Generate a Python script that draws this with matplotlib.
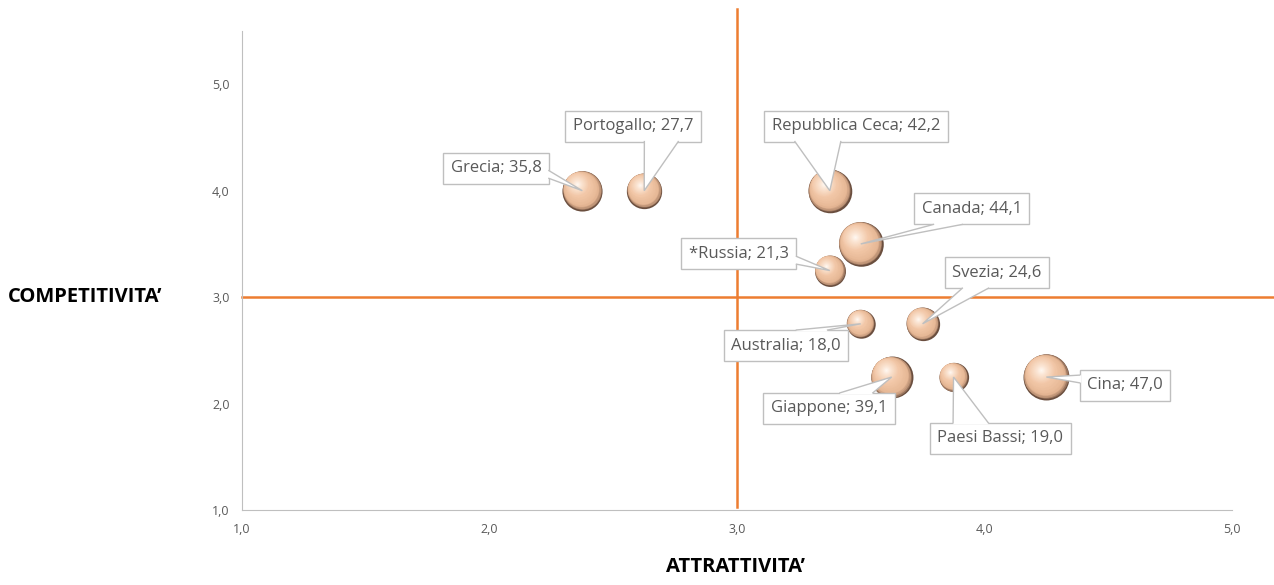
import matplotlib.pyplot as plt
import matplotlib.transforms as mtransforms
import numpy as np
from matplotlib.colors import LinearSegmentedColormap
from matplotlib.patches import Polygon

plt.rcParams['font.family'] = ['Open Sans', 'DejaVu Sans']

countries = ['Grecia', 'Portogallo', 'Repubblica Ceca', 'Canada', '*Russia',
             'Svezia', 'Australia', 'Giappone', 'Paesi Bassi', 'Cina']
attrattivita = [2.375, 2.625, 3.375, 3.5, 3.375, 3.75, 3.5, 3.625, 3.875, 4.25]
competitivita = [4.0, 4.0, 4.0, 3.5, 3.25, 2.75, 2.75, 2.25, 2.25, 2.25]
valori = [35.8, 27.7, 42.2, 44.1, 21.3, 24.6, 18.0, 39.1, 19.0, 47.0]

# posizione delle etichette (coordinate dati)
label_xy = [(2.026, 4.213), (2.580, 4.607), (3.481, 4.607), (3.949, 3.829),
            (3.008, 3.407), (4.051, 3.230), (3.198, 2.546), (3.372, 1.956),
            (4.063, 1.674), (4.568, 2.171)]

ticks = [1, 2, 3, 4, 5]
orange = '#ED7D31'
grey_edge = '#bfbfbf'

sphere = LinearSegmentedColormap.from_list('sphere', [
    (0.0, '#6a4e3e'), (0.05, '#b88e72'), (0.14, '#e6b795'), (0.40, '#f2c7a7'),
    (0.78, '#fbe5d3'), (1.0, '#fffaf5')])

fig = plt.figure(figsize=(12.74, 5.85), dpi=100)
ax = fig.add_axes([0.19, 0.128, 0.777, 0.819])
ax.set_xlim(1, 5)
ax.set_ylim(1, 5.5)

# linee dei quadranti
ax.plot([3, 3], [1.03, 5.71], color=orange, lw=1.8, clip_on=False, zorder=1)
ax.plot([1, 5.17], [3, 3], color=orange, lw=1.8, clip_on=False, zorder=1)

# bolle con effetto sfera
sizes = [23.3 * v for v in valori]
n_layers = 30
hl = np.array([-0.62, 0.78])  # direzione della luce
for x, y, s in zip(attrattivita, competitivita, sizes):
    R = np.sqrt(s) / 2  # raggio in punti
    for k in range(n_layers):
        t = k / n_layers
        r = R * (1 - t)
        m = min(0.92 * t, 0.40) * R
        tr = mtransforms.offset_copy(ax.transData, fig=fig,
                                     x=hl[0] * m, y=hl[1] * m, units='points')
        ax.scatter([x], [y], s=(2 * r) ** 2, color=sphere(t), lw=0,
                   transform=tr, zorder=3 + k * 0.01)

# etichette
texts = []
for name, v, (lx, ly) in zip(countries, valori, label_xy):
    txt = f"{name}; {v:.1f}".replace('.', ',')
    t = ax.text(lx, ly, txt, ha='center', va='center', fontsize=12,
                color='#595959', zorder=5,
                bbox=dict(boxstyle='square,pad=0.45', fc='white', ec=grey_edge, lw=1))
    texts.append(t)

for side in ['top', 'right']:
    ax.spines[side].set_visible(False)
for side in ['left', 'bottom']:
    ax.spines[side].set_color(grey_edge)
ax.set_xticks(ticks)
ax.set_yticks(ticks)
ax.set_xticklabels([f"{t:.1f}".replace('.', ',') for t in ticks])
ax.set_yticklabels([f"{t:.1f}".replace('.', ',') for t in ticks])
ax.tick_params(length=0, labelsize=9, labelcolor='#595959', pad=9)

fig.text(0.067, 0.492, "COMPETITIVITA\u2019", fontsize=14.5, fontweight='bold',
         ha='center', va='center')
fig.text(0.577, 0.030, "ATTRATTIVITA\u2019", fontsize=14.5, fontweight='bold',
         ha='center', va='center')

# punte dei fumetti (stile callout di Excel)
fig.canvas.draw()
renderer = fig.canvas.get_renderer()
inv = ax.transData.inverted()
for t, x, y in zip(texts, attrattivita, competitivita):
    bb = t.get_bbox_patch().get_window_extent(renderer)
    x0, y0, x1, y1 = bb.x0, bb.y0, bb.x1, bb.y1
    w, h = x1 - x0, y1 - y0
    cx, cy = (x0 + x1) / 2, (y0 + y1) / 2
    tx, ty = ax.transData.transform((x, y))
    dx, dy = (tx - cx) / w, (ty - cy) / h
    if abs(dx) > abs(dy):
        xs = x1 if dx > 0 else x0
        f = (2 / 12, 5 / 12) if ty > cy else (7 / 12, 10 / 12)
        a = (xs, y1 - f[0] * h)
        b = (xs, y1 - f[1] * h)
        inset = (-1.5 if dx > 0 else 1.5, 0)
    else:
        ys = y1 if dy > 0 else y0
        f = (2 / 12, 5 / 12) if tx < cx else (7 / 12, 10 / 12)
        a = (x0 + f[0] * w, ys)
        b = (x0 + f[1] * w, ys)
        inset = (0, -1.5 if dy > 0 else 1.5)
    a_in = (a[0] + inset[0], a[1] + inset[1])
    b_in = (b[0] + inset[0], b[1] + inset[1])
    pts = inv.transform([a_in, a, (tx, ty), b, b_in])
    ax.add_patch(Polygon(pts, closed=True, fc='white', ec='none', zorder=6))
    side_pts = inv.transform([a, (tx, ty), b])
    ax.plot(side_pts[:, 0], side_pts[:, 1], color=grey_edge, lw=1, zorder=6.1,
            solid_joinstyle='miter')

fig.savefig('out.png', dpi=100)
